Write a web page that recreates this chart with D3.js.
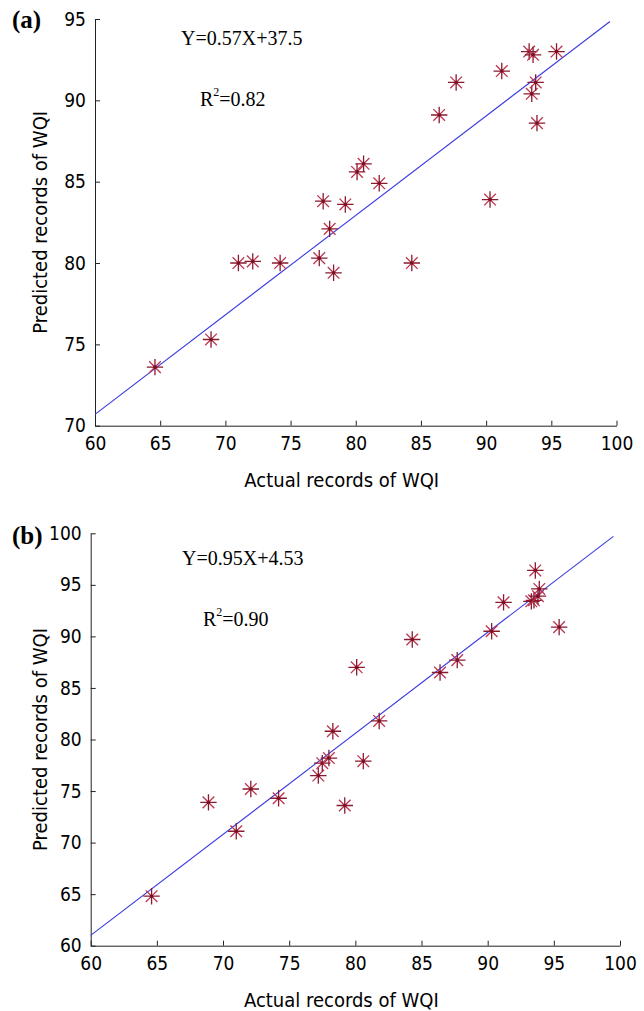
<!DOCTYPE html>
<html>
<head>
<meta charset="utf-8">
<script src="https://cdn.jsdelivr.net/npm/d3@7"></script>
<style>
  body { margin: 0; background: #fff; }
  .tick text { font-family: "DejaVu Sans Condensed", "Noto Sans", sans-serif; }
</style>
</head>
<body>
<div id="chart"></div>
<script>
// Actual records of WQI (x), shared by both panels
var actual = [64.6, 68.9, 71.0, 72.1, 74.2, 77.2, 77.5, 78.0, 78.3, 79.2, 80.1, 80.6,
              81.8, 84.3, 86.4, 87.7, 90.3, 91.2, 93.3, 93.5, 93.6, 93.8, 93.9, 95.4]
// Predicted records, panel (a)
var predA = [73.6, 75.3, 80.0, 80.1, 80.0, 80.3, 83.8, 82.1, 79.4, 83.6, 85.6, 86.1,
             84.9, 80.0, 89.1, 91.1, 83.9, 91.8, 93.0, 90.4, 92.8, 91.1, 88.6, 93.0]
// Predicted records, panel (b)
var predB = [64.8, 73.9, 71.1, 75.2, 74.3, 76.5, 77.7, 78.2, 80.8, 73.6, 87.0, 77.9,
             81.8, 89.7, 86.5, 87.7, 90.5, 93.3, 93.4, 93.5, 96.4, 93.9, 94.6, 90.9]
// fitted lines as drawn (endpoints in data units)
var fitA = [[60, 70.7], [99.5, 94.85]]
var fitB = [[60, 61.0], [99.5, 99.7]]

var xTicks = [60, 65, 70, 75, 80, 85, 90, 95, 100]
var yTicksA = [70, 75, 80, 85, 90, 95]
var yTicksB = [60, 65, 70, 75, 80, 85, 90, 95, 100]

var width = 644, height = 1011

var svg = d3.select("#chart").append("svg")
    .attr("width", width)
    .attr("height", height)

var panels = [
  { label: "(a)", pred: predA, fit: fitA, yDomain: [70, 95], yTicks: yTicksA,
    xRange: [95, 616.5], yRange: [425.7, 19],
    eq: "Y=0.57X+37.5", r2: "0.82", eqPos: [181, 45], r2Pos: [200, 106],
    labelPos: [12, 28], yTitleX: 40 },
  { label: "(b)", pred: predB, fit: fitB, yDomain: [60, 100], yTicks: yTicksB,
    xRange: [90.7, 620], yRange: [945.7, 533.3],
    eq: "Y=0.95X+4.53", r2: "0.90", eqPos: [182, 565], r2Pos: [203, 626],
    labelPos: [12, 544], yTitleX: 40 }
]

var plusSym = d3.symbol().type(d3.symbolPlus).size(90)
var timesSym = d3.symbol().type(d3.symbolTimes).size(90)

panels.forEach(function(p) {
  var x = d3.scaleLinear().domain([60, 100]).range(p.xRange)
  var y = d3.scaleLinear().domain(p.yDomain).range(p.yRange)
  var g = svg.append("g")

  // axes, ticks pointing inward
  var xAxis = g.append("g")
      .attr("transform", "translate(0," + p.yRange[0] + ")")
      .call(d3.axisBottom(x).tickValues(xTicks).tickSizeInner(-5).tickSizeOuter(0).tickPadding(11))
  var yAxis = g.append("g")
      .attr("transform", "translate(" + p.xRange[0] + ",0)")
      .call(d3.axisLeft(y).tickValues(p.yTicks).tickSizeInner(-5).tickSizeOuter(0).tickPadding(9))
  ;[xAxis, yAxis].forEach(function(a) {
    a.select(".domain").attr("stroke", "#222")
    a.selectAll(".tick line").attr("stroke", "#222")
    a.selectAll(".tick text").attr("font-size", 19).attr("fill", "#000")
  })

  // fitted line
  g.append("line")
      .attr("x1", x(p.fit[0][0])).attr("y1", y(p.fit[0][1]))
      .attr("x2", x(p.fit[1][0])).attr("y2", y(p.fit[1][1]))
      .attr("stroke", "#3a3ae0")
      .attr("stroke-width", 1.1)

  // asterisk markers
  var pts = g.selectAll(".pt")
      .data(actual.map(function(a, i) { return [a, p.pred[i]] }))
      .enter().append("g")
      .attr("class", "pt")
      .attr("transform", function(d) { return "translate(" + x(d[0]) + "," + y(d[1]) + ")" })
  pts.append("path").attr("d", timesSym)
      .attr("fill", "none").attr("stroke", "#bb3652").attr("stroke-width", 1.3)
  pts.append("path").attr("d", plusSym)
      .attr("fill", "none").attr("stroke", "#8a1a2e").attr("stroke-width", 1.3)
  pts.append("circle").attr("r", 1.8).attr("fill", "#7a1022")

  // titles
  g.append("text")
      .attr("x", (p.xRange[0] + p.xRange[1]) / 2 - 14)
      .attr("y", p.yRange[0] + 61)
      .attr("text-anchor", "middle")
      .attr("font-family", "'DejaVu Sans Condensed', 'Noto Sans', sans-serif")
      .attr("font-size", 20)
      .text("Actual records of WQI")

  var ym = (p.yRange[0] + p.yRange[1]) / 2
  g.append("text")
      .attr("transform", "translate(" + (p.yTitleX + 7) + "," + ym + ") rotate(-90)")
      .attr("text-anchor", "middle")
      .attr("font-family", "'DejaVu Sans Condensed', 'Noto Sans', sans-serif")
      .attr("font-size", 20)
      .text("Predicted records of WQI")

  g.append("text")
      .attr("x", p.labelPos[0]).attr("y", p.labelPos[1])
      .attr("font-family", "'Liberation Serif', serif")
      .attr("font-weight", "bold")
      .attr("font-size", 25)
      .text(p.label)

  g.append("text")
      .attr("x", p.eqPos[0]).attr("y", p.eqPos[1])
      .attr("font-family", "'Liberation Serif', serif")
      .attr("font-size", 20)
      .text(p.eq)

  var r2 = g.append("text")
      .attr("x", p.r2Pos[0]).attr("y", p.r2Pos[1])
      .attr("font-family", "'Liberation Serif', serif")
      .attr("font-size", 20)
  r2.append("tspan").text("R")
  r2.append("tspan").attr("font-size", 12).attr("dy", -10).text("2")
  r2.append("tspan").attr("dy", 10).text("=" + p.r2)
})
</script>
</body>
</html>
